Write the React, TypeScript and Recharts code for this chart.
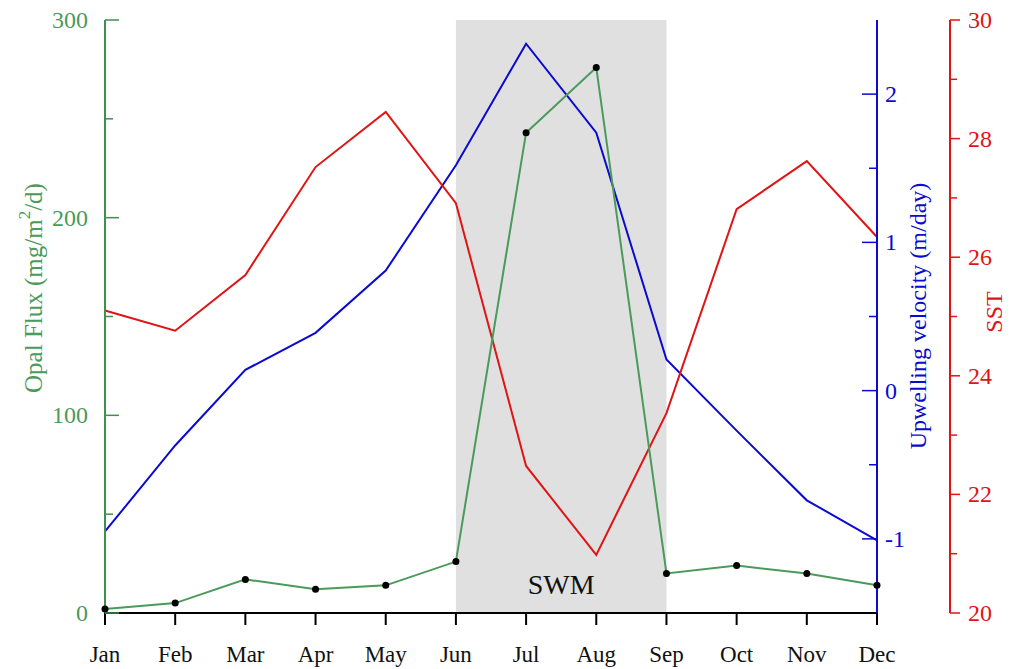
import { LineChart, Line, XAxis, YAxis, ReferenceArea } from "recharts";

const months = ["Jan", "Feb", "Mar", "Apr", "May", "Jun", "Jul", "Aug", "Sep", "Oct", "Nov", "Dec"];
const opalFlux = [2, 5, 17, 12, 14, 26, 243, 276, 20, 24, 20, 14];
const upwelling = [-0.95, -0.37, 0.14, 0.39, 0.81, 1.52, 2.34, 1.74, 0.21, -0.27, -0.74, -1.01];
const sst = [25.1, 24.76, 25.7, 27.52, 28.45, 26.91, 22.48, 20.98, 23.37, 26.81, 27.62, 26.34];

const fluxTicks = [0, 50, 100, 150, 200, 250, 300];
const upTicks = [-1, -0.5, 0, 0.5, 1, 1.5, 2];
const sstTicks = [20, 21, 22, 23, 24, 25, 26, 27, 28, 29, 30];

const GREEN = "#3f8f4f";
const GREEN_TXT = "#4a9a5a";
const BLUE = "#0a0ad0";
const RED = "#e01414";
const FONT = '"Liberation Serif", "Times New Roman", serif';

const data = months.map((m, i) => ({
  month: m,
  flux: opalFlux[i],
  up: upwelling[i],
  sst: sst[i],
}));

const BottomTick = (props: any) => {
  const { x, y, payload } = props;
  return (
    <g>
      <line x1={x} y1={y} x2={x} y2={y + 12} stroke="#000" strokeWidth={2} />
      <text x={x} y={y + 49} textAnchor="middle" fontSize={23} fontFamily={FONT} fill="#111">
        {payload.value}
      </text>
    </g>
  );
};

const TopTick = (props: any) => {
  const { x, y } = props;
  return <line x1={x} y1={y} x2={x} y2={y + 12} stroke="#000" strokeWidth={2} />;
};

const FluxTick = (props: any) => {
  const { x, y, payload } = props;
  const major = payload.value % 100 === 0;
  return (
    <g>
      <line x1={x} y1={y} x2={x + (major ? 14 : 8)} y2={y} stroke={GREEN} strokeWidth={1.5} />
      {major && (
        <text x={x - 17} y={y} textAnchor="end" dominantBaseline="central" fontSize={24} fontFamily={FONT} fill={GREEN_TXT}>
          {payload.value}
        </text>
      )}
    </g>
  );
};

const UpTick = (props: any) => {
  const { x, y, payload } = props;
  const major = Number.isInteger(payload.value);
  return (
    <g>
      <line x1={x} y1={y} x2={x - (major ? 15 : 8)} y2={y} stroke={BLUE} strokeWidth={1.5} />
      {major && (
        <text x={x + 8} y={y} textAnchor="start" dominantBaseline="central" fontSize={24} fontFamily={FONT} fill={BLUE}>
          {payload.value}
        </text>
      )}
    </g>
  );
};

const SstTick = (props: any) => {
  const { x, y, payload } = props;
  const major = payload.value % 2 === 0;
  return (
    <g>
      <line x1={x} y1={y} x2={x + (major ? 10 : 7)} y2={y} stroke={RED} strokeWidth={1.5} />
      {major && (
        <text x={x + 18} y={y} textAnchor="start" dominantBaseline="central" fontSize={24} fontFamily={FONT} fill={RED}>
          {payload.value}
        </text>
      )}
    </g>
  );
};

const FluxLabel = (props: any) => {
  const { viewBox } = props;
  const cx = viewBox.x + 33;
  const cy = viewBox.y + 268;
  return (
    <text x={cx} y={cy} transform={`rotate(-90 ${cx} ${cy})`} textAnchor="middle" dominantBaseline="central" fontSize={25} fontFamily={FONT} fill={GREEN_TXT}>
      Opal Flux (mg/m<tspan dy={-9} fontSize={17}>2</tspan><tspan dy={9}>/d)</tspan>
    </text>
  );
};

const UpLabel = (props: any) => {
  const { viewBox } = props;
  const cx = viewBox.x + 41;
  const cy = viewBox.y + 296;
  return (
    <text x={cx} y={cy} transform={`rotate(-90 ${cx} ${cy})`} textAnchor="middle" dominantBaseline="central" fontSize={24} fontFamily={FONT} fill={BLUE}>
      Upwelling velocity (m/day)
    </text>
  );
};

const SstLabel = (props: any) => {
  const { viewBox } = props;
  const cx = viewBox.x + 44;
  const cy = viewBox.y + 292;
  return (
    <text x={cx} y={cy} transform={`rotate(-90 ${cx} ${cy})`} textAnchor="middle" dominantBaseline="central" fontSize={24} fontFamily={FONT} fill={RED}>
      SST
    </text>
  );
};

const SwmLabel = (props: any) => {
  const { viewBox } = props;
  return (
    <text x={viewBox.x + viewBox.width / 2} y={viewBox.y + viewBox.height - 19} textAnchor="middle" fontSize={28} fontFamily={FONT} fill="#111">
      SWM
    </text>
  );
};

export default function App() {
  return (
    <div style={{ position: "absolute", left: 0, top: 0, background: "#fff" }}>
      <LineChart width={1016} height={669} data={data} margin={{ top: 20, right: 0, bottom: 0, left: 0 }}>
        <XAxis
          xAxisId="bottom"
          dataKey="month"
          orientation="bottom"
          height={56}
          interval={0}
          tickSize={0}
          tickMargin={0}
          tickLine={false}
          axisLine={{ stroke: "#000", strokeWidth: 2 }}
          tick={<BottomTick />}
        />
        <XAxis
          xAxisId="top"
          dataKey="month"
          orientation="top"
          height={0}
          interval={0}
          tickSize={0}
          tickMargin={0}
          tickLine={false}
          axisLine={{ stroke: "#000", strokeWidth: 2 }}
          tick={<TopTick />}
        />
        <YAxis
          yAxisId="y1"
          orientation="left"
          width={105}
          domain={[0, 300]}
          ticks={fluxTicks}
          interval={0}
          tickSize={0}
          tickMargin={0}
          tickLine={false}
          axisLine={{ stroke: GREEN, strokeWidth: 2 }}
          tick={<FluxTick />}
          label={<FluxLabel />}
        />
        <YAxis
          yAxisId="y3"
          orientation="right"
          width={66}
          domain={[20, 30]}
          ticks={sstTicks}
          interval={0}
          tickSize={0}
          tickMargin={0}
          tickLine={false}
          axisLine={{ stroke: RED, strokeWidth: 2 }}
          tick={<SstTick />}
          label={<SstLabel />}
        />
        <YAxis
          yAxisId="y2"
          orientation="right"
          width={73}
          domain={[-1.5, 2.5]}
          ticks={upTicks}
          interval={0}
          allowDataOverflow
          tickSize={0}
          tickMargin={0}
          tickLine={false}
          axisLine={{ stroke: BLUE, strokeWidth: 2 }}
          tick={<UpTick />}
          label={<UpLabel />}
        />
        <ReferenceArea
          xAxisId="bottom"
          yAxisId="y1"
          x1="Jun"
          x2="Sep"
          fill="#e0e0e0"
          fillOpacity={1}
          stroke="none"
          label={<SwmLabel />}
        />
        <Line
          xAxisId="bottom"
          yAxisId="y2"
          type="linear"
          dataKey="up"
          stroke={BLUE}
          strokeWidth={2}
          dot={false}
          isAnimationActive={false}
        />
        <Line
          xAxisId="bottom"
          yAxisId="y3"
          type="linear"
          dataKey="sst"
          stroke={RED}
          strokeWidth={2}
          dot={false}
          isAnimationActive={false}
        />
        <Line
          xAxisId="bottom"
          yAxisId="y1"
          type="linear"
          dataKey="flux"
          stroke={GREEN_TXT}
          strokeWidth={2}
          dot={{ r: 3.5, fill: "#000", stroke: "#000", strokeWidth: 0 }}
          isAnimationActive={false}
        />
      </LineChart>
    </div>
  );
}
